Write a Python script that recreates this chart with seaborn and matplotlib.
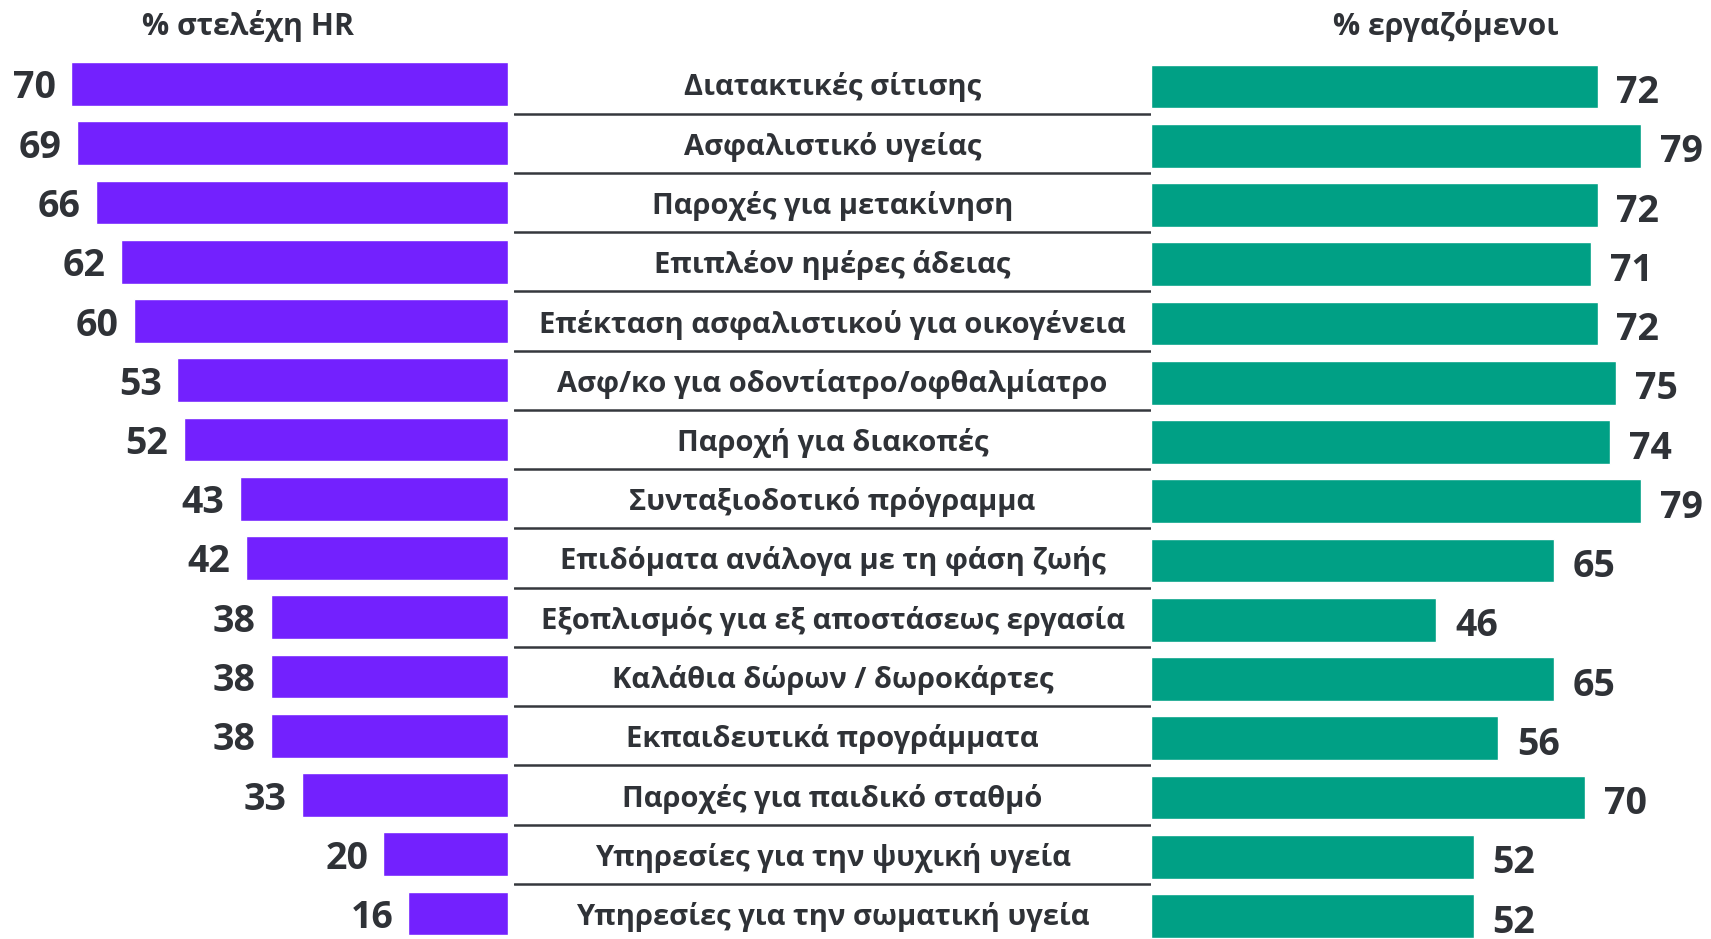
import matplotlib
matplotlib.use("Agg")
import matplotlib.pyplot as plt
import seaborn as sns
import pandas as pd

categories = [
    "Διατακτικές σίτισης",
    "Ασφαλιστικό υγείας",
    "Παροχές για μετακίνηση",
    "Επιπλέον ημέρες άδειας",
    "Επέκταση ασφαλιστικού για οικογένεια",
    "Ασφ/κο για οδοντίατρο/οφθαλμίατρο",
    "Παροχή για διακοπές",
    "Συνταξιοδοτικό πρόγραμμα",
    "Επιδόματα ανάλογα με τη φάση ζωής",
    "Εξοπλισμός για εξ αποστάσεως εργασία",
    "Καλάθια δώρων / δωροκάρτες",
    "Εκπαιδευτικά προγράμματα",
    "Παροχές για παιδικό σταθμό",
    "Υπηρεσίες για την ψυχική υγεία",
    "Υπηρεσίες για την σωματική υγεία",
]
hr_values = [70, 69, 66, 62, 60, 53, 52, 43, 42, 38, 38, 38, 33, 20, 16]
employee_values = [72, 79, 72, 71, 72, 75, 74, 79, 65, 46, 65, 56, 70, 52, 52]
header_left = "% στελέχη HR"
header_right = "% εργαζόμενοι"

sns.set_theme(style="white")
plt.rcParams["font.family"] = ["Open Sans", "DejaVu Sans"]

PURPLE = "#7321FE"
TEAL = "#00A085"
TEXT = "#2F3237"
RULE = "#35383D"

W, H = 1711, 939
fig = plt.figure(figsize=(W / 100, H / 100), dpi=100)
fig.patch.set_facecolor("white")

left_px_per_unit = 6.25
right_px_per_unit = 6.2
left_edge = 508.5
mid_left = 514.0
right_start = 1151.2

axL = fig.add_axes([0, 0, left_edge / W, 1])
axM = fig.add_axes([mid_left / W, 0, (right_start - mid_left) / W, 1])
axR = fig.add_axes([right_start / W, 0, (W - right_start) / W, 1])

df = pd.DataFrame({"cat": categories, "hr": hr_values, "emp": employee_values})

sns.barplot(data=df, x="hr", y="cat", orient="h", color=PURPLE,
            saturation=1, width=0.74, ax=axL)
sns.barplot(data=df, x="emp", y="cat", orient="h", color=TEAL,
            saturation=1, width=0.74, ax=axR)

row_top = 84.0
row_step = 59.25
ylim_main = ((H - row_top) / row_step, -row_top / row_step)
row_top_r = 86.5
ylim_right = ((H - row_top_r) / row_step, -row_top_r / row_step)

axL.set_xlim(left_edge / left_px_per_unit, 0)
axL.set_ylim(*ylim_main)
axR.set_xlim(0, (W - right_start) / right_px_per_unit)
axR.set_ylim(*ylim_right)
axM.set_xlim(0, 1)
axM.set_ylim(*ylim_main)

for ax in (axL, axM, axR):
    ax.axis("off")

for i, v in enumerate(hr_values):
    axL.annotate(str(v), xy=(v, i), xytext=(-11, 0), textcoords="offset points",
                 ha="right", va="center_baseline", fontsize=27, fontweight="bold",
                 color=TEXT)
for i, v in enumerate(employee_values):
    axR.annotate(str(v), xy=(v, i), xytext=(13.5, -1.5), textcoords="offset points",
                 ha="left", va="center_baseline", fontsize=27, fontweight="bold",
                 color=TEXT)

for i, name in enumerate(categories):
    axM.text(0.5, i, name, ha="center", va="center_baseline", fontsize=21,
             fontweight="bold", color=TEXT)
for i in range(len(categories) - 1):
    axM.axhline(i + 0.5, xmin=0, xmax=1, color=RULE, lw=1.8)

fig.text(247.7 / W, 1 - 23 / H, header_left, ha="center", va="center_baseline",
         fontsize=21.8, fontweight="bold", color=TEXT)
fig.text(1445.6 / W, 1 - 23 / H, header_right, ha="center", va="center_baseline",
         fontsize=21.8, fontweight="bold", color=TEXT)

fig.savefig("out.png", dpi=100, facecolor="white")
